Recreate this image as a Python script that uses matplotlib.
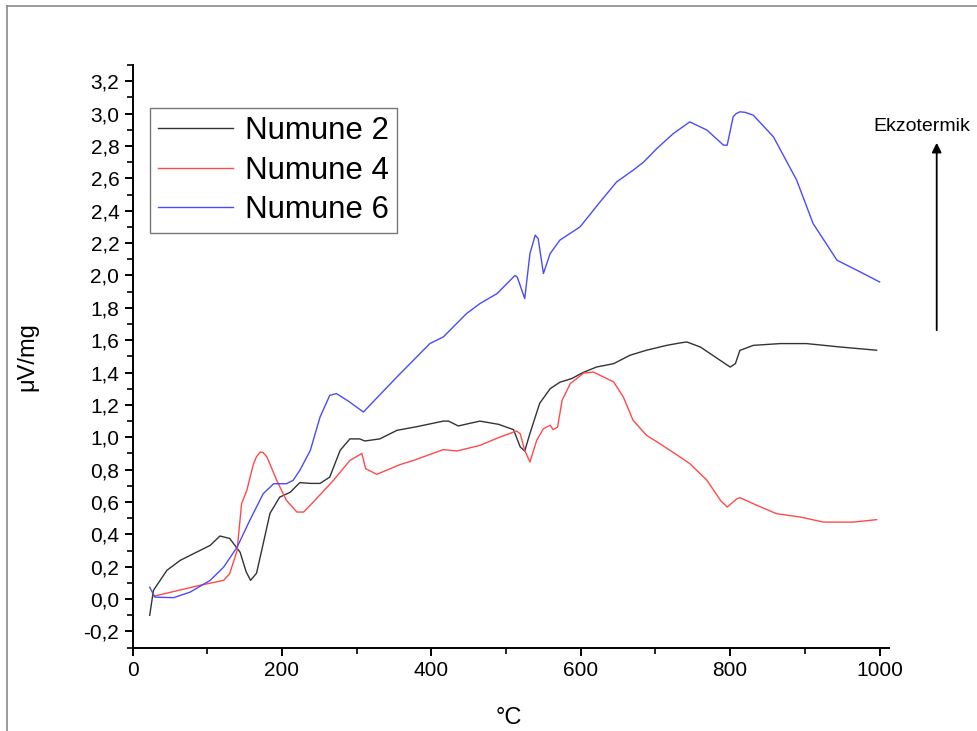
import numpy as np
import matplotlib
matplotlib.use("Agg")
import matplotlib.pyplot as plt
from matplotlib.lines import Line2D
from matplotlib.ticker import MultipleLocator, FuncFormatter

plt.rcParams["font.family"] = ["Liberation Sans", "DejaVu Sans"]

# --- DTA egrileri (sicaklik °C, sinyal uV/mg) ---
x_n2 = [23, 28, 46, 64, 90, 104, 117, 130, 144, 152, 158, 166, 175, 184, 197,
        211, 224, 238, 251, 264, 278, 291, 304, 311, 331, 354, 380, 416, 423,
        436, 465, 490, 510, 519, 525, 532, 545, 559, 572, 588, 603, 621, 644,
        666, 688, 715, 733, 742, 760, 800, 807, 813, 831, 867, 902, 947, 996]
y_n2 = [-0.10, 0.054, 0.178, 0.24, 0.30, 0.332, 0.39, 0.375, 0.29, 0.17, 0.116,
        0.16, 0.344, 0.53, 0.63, 0.66, 0.72, 0.715, 0.715, 0.754, 0.92, 0.99,
        0.99, 0.977, 0.99, 1.043, 1.065, 1.10, 1.10, 1.07, 1.10, 1.08, 1.047,
        0.94, 0.915, 1.024, 1.21, 1.30, 1.34, 1.363, 1.40, 1.434, 1.455,
        1.507, 1.538, 1.568, 1.583, 1.589, 1.558, 1.434, 1.455, 1.537, 1.568,
        1.579, 1.579, 1.558, 1.538]

x_n4 = [28, 46, 90, 122, 130, 140, 146, 153, 162, 166, 171, 175, 180, 193, 206,
        220, 229, 242, 269, 291, 307, 312, 327, 358, 376, 416, 434, 465, 490,
        514, 519, 525, 532, 541, 550, 559, 563, 569, 575, 586, 604, 617, 644,
        657, 670, 688, 706, 733, 746, 769, 787, 796, 809, 813, 836, 862, 894,
        925, 965, 996]
y_n4 = [0.017, 0.037, 0.085, 0.116, 0.157, 0.30, 0.59, 0.672, 0.837, 0.88,
        0.909, 0.905, 0.878, 0.734, 0.61, 0.538, 0.538, 0.60, 0.734, 0.857,
        0.90, 0.806, 0.771, 0.831, 0.857, 0.924, 0.915, 0.95, 0.998, 1.039,
        1.022, 0.919, 0.847, 0.981, 1.053, 1.074, 1.047, 1.063, 1.228, 1.332,
        1.397, 1.403, 1.342, 1.249, 1.105, 1.012, 0.96, 0.878, 0.837, 0.734,
        0.61, 0.569, 0.62, 0.627, 0.579, 0.528, 0.507, 0.476, 0.476, 0.491]

x_n6 = [23, 30, 55, 77, 104, 122, 140, 157, 175, 189, 206, 215, 224, 238, 251,
        264, 273, 290, 309, 354, 398, 416, 447, 465, 488, 512, 515, 525, 532,
        539, 543, 550, 559, 572, 599, 626, 648, 670, 684, 702, 724, 746, 769,
        791, 796, 804, 808, 813, 820, 831, 858, 889, 911, 943, 974, 1000]
y_n6 = [0.074, 0.012, 0.009, 0.043, 0.116, 0.198, 0.321, 0.487, 0.652, 0.713,
        0.713, 0.734, 0.796, 0.919, 1.125, 1.259, 1.27, 1.22, 1.156, 1.373,
        1.579, 1.62, 1.764, 1.826, 1.888, 2.0, 1.99, 1.857, 2.135, 2.249,
        2.228, 2.012, 2.135, 2.218, 2.30, 2.455, 2.578, 2.65, 2.70, 2.785,
        2.877, 2.949, 2.898, 2.805, 2.805, 2.98, 3.0, 3.011, 3.008, 2.99,
        2.856, 2.589, 2.321, 2.094, 2.022, 1.96]

seriler = [
    ("Numune 2", x_n2, y_n2, "#333333"),
    ("Numune 4", x_n4, y_n4, "#ff4a4a"),
    ("Numune 6", x_n6, y_n6, "#4a4aff"),
]

fig = plt.figure(figsize=(9.78, 7.31), dpi=100)
ax = fig.add_axes([0.1355, 0.114, 0.7738, 0.797])

for ad, xs, ys, renk in seriler:
    ax.plot(xs, ys, color=renk, lw=1.0, label=ad, solid_joinstyle="round")

ax.set_xlim(0, 1013)
ax.set_ylim(-0.3, 3.3)

ax.spines["top"].set_visible(False)
ax.spines["right"].set_visible(False)
ax.spines["left"].set_linewidth(1.4)
ax.spines["bottom"].set_linewidth(1.4)

ax.xaxis.set_major_locator(MultipleLocator(200))
ax.xaxis.set_minor_locator(MultipleLocator(100))
ax.yaxis.set_major_locator(MultipleLocator(0.2))
ax.yaxis.set_minor_locator(MultipleLocator(0.1))
ax.yaxis.set_major_formatter(FuncFormatter(lambda v, p: f"{v:.1f}".replace(".", ",").replace("-0,0", "0,0")))
ax.tick_params(which="major", length=6, width=1.4, labelsize=15, direction="out")
ax.tick_params(which="minor", length=4, width=1.2, direction="out")

ax.set_xlabel("°C", fontsize=17)
ax.set_ylabel("μV/mg", fontsize=17)
ax.xaxis.set_label_coords(0.4975, -0.102)
ax.yaxis.set_label_coords(-0.124, 0.5)

leg = ax.legend(loc="upper left", bbox_to_anchor=(0.0232, 0.926), fontsize=22.5,
                frameon=True, fancybox=False, handlelength=2.4, handletextpad=0.4,
                labelspacing=0.31, borderpad=0.25, borderaxespad=0)
leg.get_frame().set_edgecolor("#555555")
leg.get_frame().set_linewidth(1.0)

# ekzotermik yon oku
ax.annotate("", xy=(936.7 / 978, 1 - 140 / 731), xytext=(936.7 / 978, 1 - 333 / 731),
            xycoords="figure fraction", textcoords="figure fraction",
            arrowprops=dict(arrowstyle="-|>", color="black", lw=1.3, mutation_scale=14))
fig.text(921.7 / 978, 1 - 126.7 / 731, "Ekzotermik", fontsize=14, ha="center", va="center")

# sayfa cercevesi (sol ve ust kenar)
fig.add_artist(Line2D([7 / 978, 7 / 978], [0, 1 - 6 / 731], color="#8a8a8a", lw=1.2))
fig.add_artist(Line2D([7 / 978, 1], [1 - 6 / 731, 1 - 6 / 731], color="#8a8a8a", lw=1.2))

fig.savefig("out.png", dpi=100)
